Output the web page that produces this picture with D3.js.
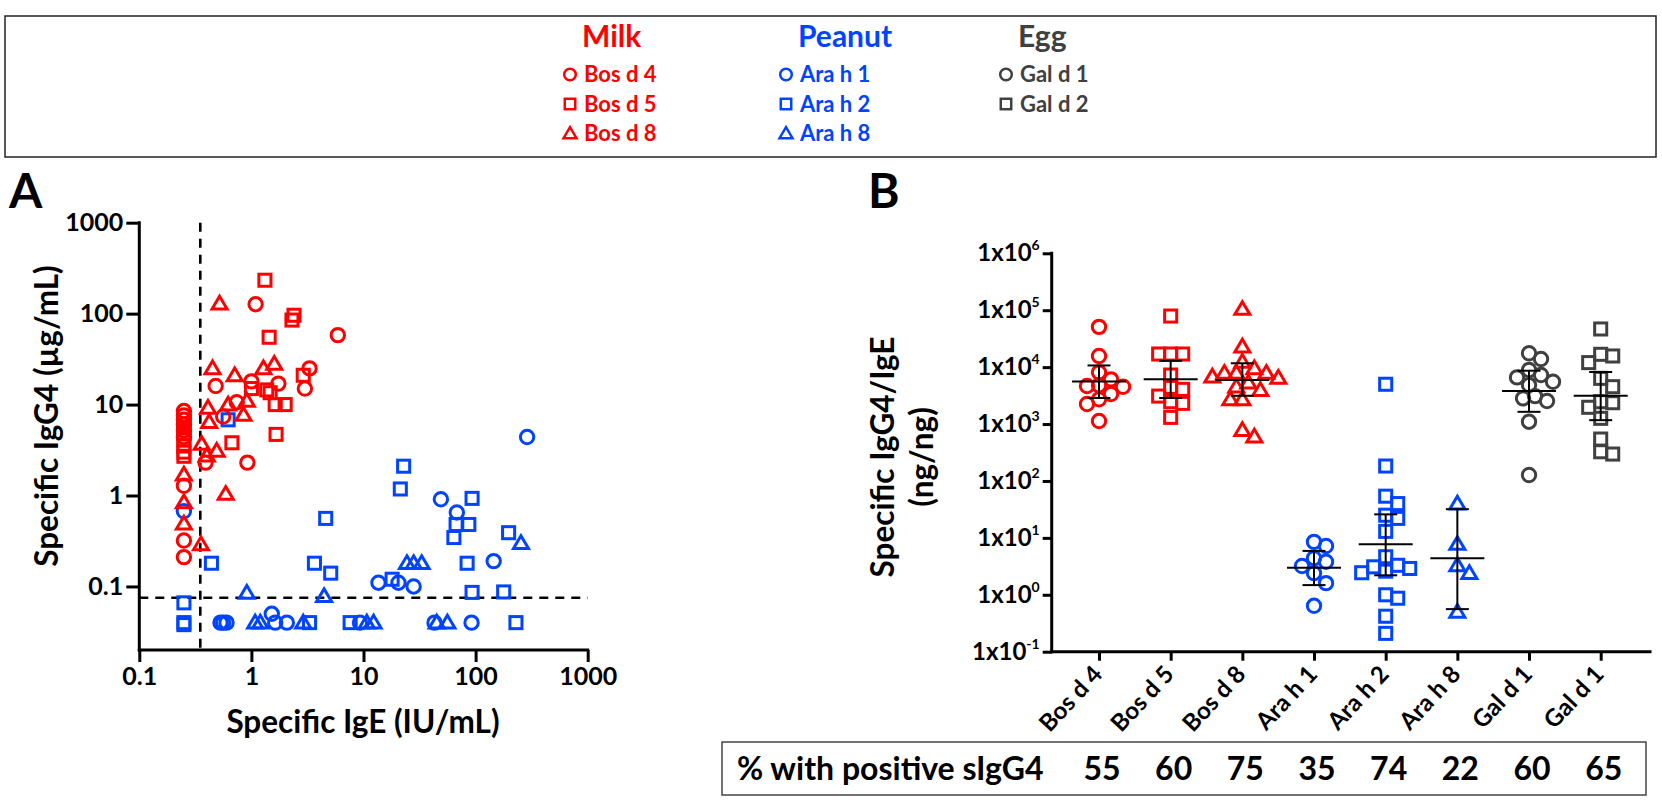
<!DOCTYPE html>
<html><head><meta charset="utf-8">
<script src="https://cdn.jsdelivr.net/npm/d3@7"></script>
<style>
body{margin:0;background:#fff;}
svg text{font-family:Lato,"Open Sans",sans-serif;font-weight:700;fill:#000;}
</style></head>
<body>
<svg id="c" width="1662" height="802"></svg>
<script>
// ---------------- DATA ----------------
// Panel A: [specific IgE (IU/mL), specific IgG4 (ug/mL)]
const xTicksA = [0.1, 1, 10, 100, 1000];
const yTicksA = [0.1, 1, 10, 100, 1000];
const igeCutoff = 0.35;
const igg4Cutoff = 0.075;

const bosd4A = [[0.25,8.5],[0.25,7.6],[0.25,6.8],[0.25,6.0],[0.25,5.2],[0.25,4.4],[0.25,1.28],[0.25,0.32],[0.25,0.21],
  [1.09,127],[5.9,58],[3.3,25],[0.48,16],[1.0,18],[1.74,17],[3.0,15],[0.74,10.6],[0.56,7.4],[0.39,2.3],[0.92,2.3]];
const bosd5A = [[0.25,5.6],[0.25,4.8],[0.25,4.1],[0.25,3.5],[0.25,3.0],[0.25,2.7],
  [1.32,233],[2.4,96],[2.3,85],[1.44,55],[2.9,21],[1.0,15],[1.37,14.5],[1.47,13.5],[1.63,10],[2.0,10],[0.67,3.8],[1.66,4.7]];
const bosd8A = [[0.52,129],[0.45,25],[1.6,28],[1.28,25],[0.71,21],[0.41,9.2],[0.62,10],[0.91,11],[0.85,7.7],[0.42,6.4],
  [0.36,3.7],[0.49,3.1],[0.40,2.75],[0.25,1.7],[0.59,1.04],[0.25,0.84],[0.25,0.49],[0.355,0.29]];
const arah1A = [[0.25,0.67],[0.53,0.04],[0.56,0.04],[0.6,0.04],[1.52,0.05],[1.63,0.04],[2.07,0.04],[9.3,0.04],[13.6,0.11],
  [20.5,0.11],[28,0.1],[49,0.91],[68,0.65],[92,0.04],[43,0.04],[145,0.19],[288,4.4]];
const arah2A = [[0.62,6.8],[0.44,0.18],[0.25,0.066],[0.25,0.038],[0.25,0.04],[3.3,0.04],[3.65,0.18],[5.1,0.14],[4.6,0.56],
  [7.6,0.04],[18,0.12],[22.8,2.1],[21.3,1.18],[67,0.48],[64,0.345],[87,0.48],[93,0.93],[84,0.18],[93,0.086],[178,0.087],
  [197,0.39],[229,0.04]];
const arah8A = [[0.91,0.085],[1.08,0.04],[1.2,0.04],[2.9,0.04],[4.45,0.078],[10.7,0.04],[12.3,0.04],[24.4,0.18],[28,0.18],
  [33,0.18],[45,0.04],[56,0.04],[254,0.30]];

// Panel B: specific IgG4/IgE (ng/ng)
const catLabels = ["Bos d 4","Bos d 5","Bos d 8","Ara h 1","Ara h 2","Ara h 8","Gal d 1","Gal d 1"];
const bosd4B = [51000,15700,8100,6100,4800,4660,4530,3370,2720,2250,1130];
const bosd5B = [79000,17000,17000,17000,7260,4420,4070,3100,2470,2310,1310];
const bosd8B = [105000,22900,12400,9500,7900,7900,7900,6800,6500,5320,4530,3960,2720,2720,780,600];
const arah1B = [8.5,7.2,4.4,3.8,3.2,2.4,1.6,0.64];
const arah2B = [5000,183,54,40,25,22,13,4.66,3.3,3.1,2.9,2.6,2.44,1.0,0.87,0.42,0.21];
const arah8B = [40,7.8,3.3,2.4,0.5];
const gald1B = [17500,13900,8900,7270,6600,5530,4840,3100,2830,2540,1100,127];
const gald2B = [46800,16800,15700,12000,6350,4530,2470,2370,1970,1260,545,326,297];
const mediansB = [5600,6100,5930,3.0,7.7,4.37,3800,3150];
const lowerB = [2870,2870,3140,1.48,2.2,0.56,1640,1170];
const upperB = [10700,12900,11700,5.9,25.9,32,8650,8200];
const yTicksB = [0.1,1,10,100,1000,10000,100000,1000000];
const pctPositive = [55,60,75,35,74,22,60,65];

// ---------------- STYLE ----------------
const RED="#ff0000", BLUE="#0044ff", GRAY="#404040";
const svg = d3.select("#c");

function marker(g, shape, x, y, color, s, sw){
  let el;
  if(shape==="circle") el=g.append("circle").attr("cx",x).attr("cy",y).attr("r",s);
  else if(shape==="square") el=g.append("rect").attr("x",x-s*0.9).attr("y",y-s*0.9).attr("width",s*1.8).attr("height",s*1.8);
  else el=g.append("path").attr("d",`M${x},${y-s*1.1}L${x+s*1.12},${y+s*0.8}L${x-s*1.12},${y+s*0.8}Z`).attr("stroke-linejoin","miter");
  el.attr("fill","none").attr("stroke",color).attr("stroke-width",sw);
}

// ---------------- LEGEND ----------------
const leg = svg.append("g");
leg.append("rect").attr("x",5).attr("y",16).attr("width",1651).attr("height",141)
  .attr("fill","none").attr("stroke","#222").attr("stroke-width",1.5);
const legendGroups = [
  {title:"Milk", color:RED, x:584, items:[["circle","Bos d 4"],["square","Bos d 5"],["triangle","Bos d 8"]]},
  {title:"Peanut", color:BLUE, x:800, items:[["circle","Ara h 1"],["square","Ara h 2"],["triangle","Ara h 8"]]},
  {title:"Egg", color:GRAY, x:1020, items:[["circle","Gal d 1"],["square","Gal d 2"]]}
];
legendGroups.forEach(gr=>{
  leg.append("text").attr("x",gr.x-2).attr("y",47).attr("font-size",30).style("fill",gr.color).text(gr.title);
  gr.items.forEach((it,i)=>{
    const by = 82 + i*29.5;
    marker(leg, it[0], gr.x-14, by-7.5, gr.color, 5.8, 2.5);
    leg.append("text").attr("x",gr.x).attr("y",by).attr("font-size",22).style("fill",gr.color).text(it[1]);
  });
});

// ---------------- PANEL A ----------------
const xA = d3.scaleLog().domain([0.1,1000]).range([139.3,587.7]);
const yA = d3.scaleLog().domain([0.02,1000]).range([650,222.7]);
const gA = svg.append("g");
gA.append("text").attr("x",9).attr("y",208).attr("font-size",48).text("A");

// dashed cutoff lines
gA.append("line").attr("x1",xA(igeCutoff)).attr("x2",xA(igeCutoff)).attr("y1",yA(1000)).attr("y2",yA(0.02))
  .attr("stroke","#000").attr("stroke-width",2.6).attr("stroke-dasharray","9,7");
gA.append("line").attr("x1",xA(0.1)).attr("x2",xA(1000)).attr("y1",yA(igg4Cutoff)).attr("y2",yA(igg4Cutoff))
  .attr("stroke","#000").attr("stroke-width",2.6).attr("stroke-dasharray","9,7");

const seriesA = [
  [arah1A,"circle",BLUE],[arah2A,"square",BLUE],[arah8A,"triangle",BLUE],
  [bosd4A,"circle",RED],[bosd5A,"square",RED],[bosd8A,"triangle",RED]
];
const ptsA = gA.append("g");
seriesA.forEach(([data,shape,color])=>{
  data.forEach(d=>marker(ptsA, shape, xA(d[0]), yA(d[1]), color, 6.7, 3));
});

const axA_x = gA.append("g").attr("transform","translate(0,650)")
  .call(d3.axisBottom(xA).tickValues(xTicksA).tickFormat(d3.format("~g")).tickSize(12).tickSizeOuter(0).tickPadding(5));
const axA_y = gA.append("g").attr("transform","translate(139.3,0)")
  .call(d3.axisLeft(yA).tickValues(yTicksA).tickFormat(d3.format("~g")).tickSize(13).tickSizeOuter(0).tickPadding(3));
[axA_x,axA_y].forEach(a=>{
  a.selectAll("path,line").attr("stroke","#000").attr("stroke-width",3);
  a.select(".domain").attr("stroke-linecap","square");
  a.selectAll("text").attr("font-size",25).attr("font-family",null).attr("fill","#000");
});
axA_x.select(".domain").attr("d",`M${xA(0.1)},0H${xA(1000)}`);
axA_y.select(".domain").attr("d",`M0,${yA(0.02)}V${yA(1000)}`);

gA.append("text").attr("x",363).attr("y",733).attr("text-anchor","middle").attr("font-size",31.5).text("Specific IgE (IU/mL)");
gA.append("text").attr("transform","translate(47,416) rotate(-90)").attr("text-anchor","middle").attr("dy","0.35em")
  .attr("font-size",31.5).text("Specific IgG4 (µg/mL)");

// ---------------- PANEL B ----------------
const idx = d3.range(catLabels.length);
const xB = d3.scalePoint().domain(idx).range([1051.7,1648]).padding(0.66);
const yB = d3.scaleLog().domain([0.1,1e6]).range([651.7,253.3]);
const gB = svg.append("g");
gB.append("text").attr("x",868).attr("y",208).attr("font-size",48).text("B");

const seriesB = [
  [bosd4B,"circle",RED],[bosd5B,"square",RED],[bosd8B,"triangle",RED],
  [arah1B,"circle",BLUE],[arah2B,"square",BLUE],[arah8B,"triangle",BLUE],
  [gald1B,"circle",GRAY],[gald2B,"square",GRAY]
];
// beeswarm-like horizontal spreading of points in each column
function swarm(values, cx){
  const placed=[]; const minD=12, step=6;
  const order = values.map((v,i)=>({v,i,y:yB(v)})).sort((a,b)=>a.y-b.y);
  order.forEach(p=>{
    for(let k=0;k<40;k++){
      const off = (k===0)?0:(k%2? 1:-1)*Math.ceil(k/2)*step;
      const x = cx+off;
      if(placed.every(q=>Math.hypot(q.x-x,q.y-p.y)>=minD)){ placed.push({x,y:p.y}); break; }
    }
  });
  return placed;
}
const ptsB = gB.append("g");
seriesB.forEach(([data,shape,color],i)=>{
  swarm(data, xB(i)).forEach(p=>marker(ptsB, shape, p.x, p.y, color, 6.7, 3));
});
// median & IQR bars
const barsB = gB.append("g").attr("stroke","#000").attr("stroke-width",2);
idx.forEach(i=>{
  const cx=xB(i);
  barsB.append("line").attr("x1",cx).attr("x2",cx).attr("y1",yB(lowerB[i])).attr("y2",yB(upperB[i]));
  barsB.append("line").attr("x1",cx-27).attr("x2",cx+27).attr("y1",yB(mediansB[i])).attr("y2",yB(mediansB[i]));
  barsB.append("line").attr("x1",cx-11.5).attr("x2",cx+11.5).attr("y1",yB(lowerB[i])).attr("y2",yB(lowerB[i]));
  barsB.append("line").attr("x1",cx-11.5).attr("x2",cx+11.5).attr("y1",yB(upperB[i])).attr("y2",yB(upperB[i]));
});

const axB_y = gB.append("g").attr("transform","translate(1051.7,0)")
  .call(d3.axisLeft(yB).tickValues(yTicksB).tickFormat(()=> "").tickSize(9).tickSizeOuter(0).tickPadding(3));
axB_y.selectAll(".tick text").each(function(d){
  const t=d3.select(this); const e=Math.round(Math.log10(d));
  t.text(null).attr("font-size",24).attr("font-family",null);
  t.append("tspan").text("1x10");
  t.append("tspan").attr("font-size",14).attr("dy","-0.8em").text(e);
});
const axB_x = gB.append("g").attr("transform","translate(0,651.7)")
  .call(d3.axisBottom(xB).tickFormat(i=>catLabels[i]).tickSize(9).tickSizeOuter(0));
axB_x.selectAll(".tick text").attr("x",0).attr("y",0).attr("dy","0.35em").attr("text-anchor","end")
  .attr("transform","translate(-2,18) rotate(-47)").attr("font-size",24).attr("font-family",null);
[axB_x,axB_y].forEach(a=>{
  a.selectAll("path,line").attr("stroke","#000").attr("stroke-width",3);
  a.select(".domain").attr("stroke-linecap","square");
});
axB_x.select(".domain").attr("d","M1051.7,0H1650");
axB_y.select(".domain").attr("d",`M0,${yB(0.1)}V${yB(1e6)}`);

gB.append("text").attr("transform","translate(883,457) rotate(-90)").attr("text-anchor","middle").attr("dy","0.35em")
  .attr("font-size",31.5).text("Specific IgG4/IgE");
gB.append("text").attr("transform","translate(922,457) rotate(-90)").attr("text-anchor","middle").attr("dy","0.35em")
  .attr("font-size",31.5).text("(ng/ng)");

// ---------------- TABLE ----------------
const tbl = svg.append("g");
tbl.append("rect").attr("x",722).attr("y",742).attr("width",924).attr("height",53)
  .attr("fill","none").attr("stroke","#444").attr("stroke-width",1.5);
tbl.append("text").attr("x",737).attr("y",780).attr("font-size",32).text("% with positive sIgG4");
idx.forEach(i=>{
  tbl.append("text").attr("x",xB(i)+3).attr("y",780).attr("text-anchor","middle").attr("font-size",32).text(pctPositive[i]);
});
</script>
</body></html>
